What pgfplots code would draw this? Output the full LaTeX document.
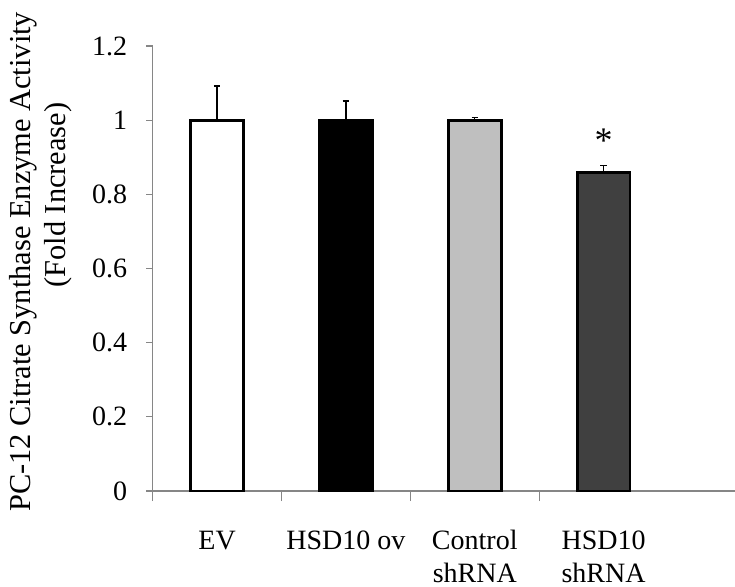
\documentclass[border=0pt]{standalone}
\usepackage{pgfplots}
\pgfplotsset{compat=1.18}
\usepackage{fontspec}
\setmainfont{Liberation Serif}
\definecolor{axisgray}{HTML}{868686}
\definecolor{lightbar}{HTML}{BFBFBF}
\definecolor{darkbar}{HTML}{404040}
\begin{document}
\begin{tikzpicture}
\path[use as bounding box] (-76.35pt,-47.5pt) rectangle (291.15pt,245.5pt);
\begin{axis}[
	at={(0,0)}, anchor=south west,
	scale only axis, width=291.15pt, height=222.5pt,
	xmin=-0.5, xmax=4.02, ymin=0, ymax=1.2,
	axis x line*=bottom, axis y line*=left,
	axis line style={axisgray, line width=0.6pt},
	every tick/.style={axisgray, line width=0.6pt},
	tick align=outside,
	ytick={0,0.2,0.4,0.6,0.8,1,1.2},
	major tick length=3.3pt,
	xtick={0,1,2,3},
	xticklabels={\strut EV, \strut HSD10 ov, \strut Control\\shRNA, \strut HSD10\\shRNA},
	major x tick style={draw=none},
	minor xtick={-0.5,0.5,1.5,2.5},
	minor tick length=5pt,
	xticklabel style={align=center, anchor=north, yshift=-11pt},
	yticklabel style={anchor=east, xshift=-6pt},
	/pgf/number format/assume math mode=true,
	font=\fontsize{14}{16.5}\selectfont,
	tick label style={font=\fontsize{14}{16.5}\selectfont},
	ybar, bar width=0.41, bar shift=0pt,
	clip=false,
	error bars/y dir=plus, error bars/y explicit,
	error bars/error mark=-,
	error bars/error mark options={black, line width=0.65pt, mark size=1.6pt, rotate=90},
	error bars/error bar style={black, line width=0.65pt},
]
\addplot[draw=black, line width=1.4pt, fill=white] coordinates {(0,1.0) +- (0,0.092)};
\addplot[draw=black, line width=1.4pt, fill=black] coordinates {(1,1.0) +- (0,0.052)};
\addplot[draw=black, line width=1.4pt, fill=lightbar] coordinates {(2,1.0) +- (0,0.008)};
\addplot[draw=black, line width=1.4pt, fill=darkbar] coordinates {(3,0.858) +- (0,0.02)};
\node[font=\fontsize{18}{18}\selectfont, yshift=-3.2pt] at (axis cs:3,0.962) {*};
\node[font=\fontsize{15.2}{17.5}\selectfont, xshift=-64.85pt, rotate=90] at (rel axis cs:0,0.515) {PC-12 Citrate Synthase Enzyme Activity};
\node[font=\fontsize{15.2}{17.5}\selectfont, xshift=-47.35pt, rotate=90] at (rel axis cs:0,0.665) {(Fold Increase)};
\end{axis}
\end{tikzpicture}
\end{document}
